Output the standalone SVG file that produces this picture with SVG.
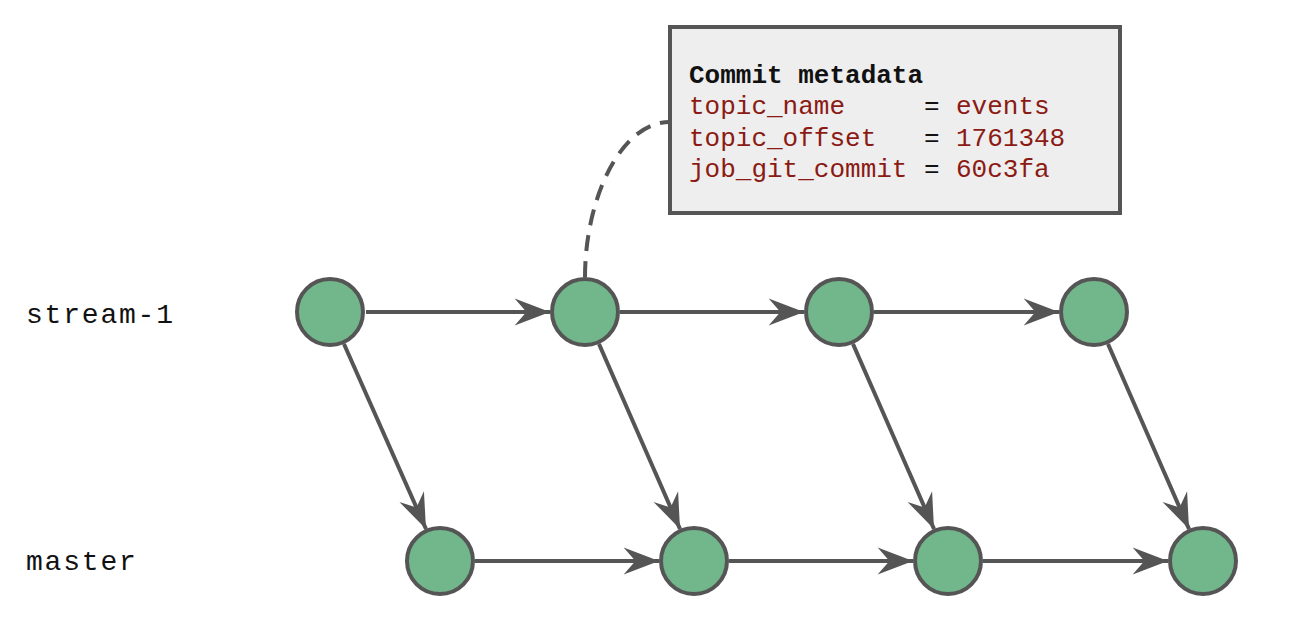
<svg xmlns="http://www.w3.org/2000/svg" width="1298" height="630" viewBox="0 0 1298 630">
<style>
.node{fill:#72b68c;stroke:#555555;stroke-width:4}
.edge{fill:none;stroke:#555555;stroke-width:4}
.lbl{font-family:"Liberation Mono","DejaVu Sans Mono",monospace;font-size:28px;fill:#111111;letter-spacing:1.8px}
.meta{font-family:"Liberation Mono","DejaVu Sans Mono",monospace;font-size:26px;fill:#8b1a14}
.eq{fill:#111111}
.title{font-family:"Liberation Mono","DejaVu Sans Mono",monospace;font-size:26px;font-weight:bold;fill:#111111}
</style>
<defs>
<marker id="arr" markerUnits="userSpaceOnUse" markerWidth="40" markerHeight="30" viewBox="-34 -14 36 28" refX="0" refY="0" orient="auto">
<path d="M0,0 L-33,-12.5 L-22,0 L-33,12.5 Z" fill="#555555"/>
</marker>
</defs>
<rect width="1298" height="630" fill="#ffffff"/>
<g id="labels">
<text class="lbl" x="26" y="323">stream-1</text>
<text class="lbl" x="26" y="570">master</text>
</g>
<g id="connectors">
<line class="edge" x1="366" y1="312" x2="550" y2="312" marker-end="url(#arr)"/>
<line class="edge" x1="620" y1="312" x2="804" y2="312" marker-end="url(#arr)"/>
<line class="edge" x1="874" y1="312" x2="1059" y2="312" marker-end="url(#arr)"/>
<line class="edge" x1="475" y1="561" x2="659" y2="561" marker-end="url(#arr)"/>
<line class="edge" x1="729" y1="561" x2="913" y2="561" marker-end="url(#arr)"/>
<line class="edge" x1="983" y1="561" x2="1168" y2="561" marker-end="url(#arr)"/>
<line class="edge" x1="344" y1="344" x2="426" y2="529" marker-end="url(#arr)"/>
<line class="edge" x1="599" y1="344" x2="680" y2="529" marker-end="url(#arr)"/>
<line class="edge" x1="853" y1="344" x2="934" y2="529" marker-end="url(#arr)"/>
<line class="edge" x1="1108" y1="344" x2="1189" y2="529" marker-end="url(#arr)"/>
<path class="edge" d="M585,277 C585,200 620,122 670,122" stroke-dasharray="16 10"/>
</g>
<g id="s1"><circle class="node" cx="330" cy="312" r="33"/></g>
<g id="s2"><circle class="node" cx="585" cy="312" r="33"/></g>
<g id="s3"><circle class="node" cx="839" cy="312" r="33"/></g>
<g id="s4"><circle class="node" cx="1094" cy="312" r="33"/></g>
<g id="m1"><circle class="node" cx="440" cy="561" r="33"/></g>
<g id="m2"><circle class="node" cx="694" cy="561" r="33"/></g>
<g id="m3"><circle class="node" cx="948" cy="561" r="33"/></g>
<g id="m4"><circle class="node" cx="1203" cy="561" r="33"/></g>
<g id="metadata">
<rect x="670" y="27" width="450" height="186" fill="#eeeeee" stroke="#555555" stroke-width="4"/>
<text class="title" x="689" y="83">Commit metadata</text>
<text class="meta" x="689" y="114">topic_name<tspan class="eq" x="924">=</tspan><tspan x="956">events</tspan></text>
<text class="meta" x="689" y="146">topic_offset<tspan class="eq" x="924">=</tspan><tspan x="956">1761348</tspan></text>
<text class="meta" x="689" y="177">job_git_commit<tspan class="eq" x="924">=</tspan><tspan x="956">60c3fa</tspan></text>
</g>
</svg>
